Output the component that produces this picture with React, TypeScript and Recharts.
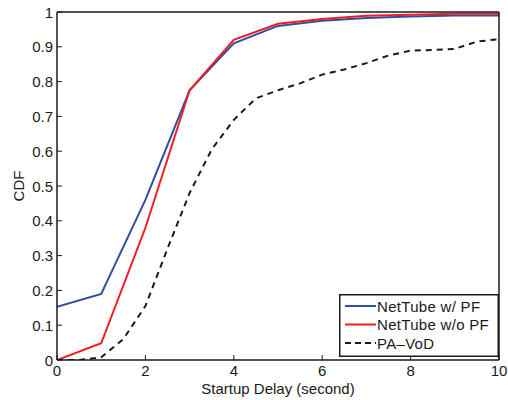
import { LineChart, Line, XAxis, YAxis } from 'recharts'

// startup delay (s) sampled at whole seconds for the two NetTube variants
const delaySteps = [0, 1, 2, 3, 4, 5, 6, 7, 8, 9, 10]
const netTubeWithPf = [0.153, 0.19, 0.46, 0.775, 0.91, 0.96, 0.975, 0.983, 0.987, 0.99, 0.99]
const netTubeWithoutPf = [0, 0.048, 0.38, 0.775, 0.92, 0.966, 0.98, 0.989, 0.992, 0.995, 0.995]

// PA-VoD has finer samples
const paDelay = [0, 0.5, 1, 1.5, 2, 2.5, 3, 3.5, 4, 4.5, 5, 5.5, 6, 6.5, 7, 7.5, 8, 8.5, 9, 9.5, 10]
const paVod = [0, 0, 0.008, 0.06, 0.155, 0.32, 0.48, 0.605, 0.69, 0.752, 0.775, 0.795, 0.82, 0.835, 0.853, 0.875, 0.889, 0.891, 0.894, 0.915, 0.922]

const xTicks = [0, 2, 4, 6, 8, 10]
const yTicks = [0, 0.1, 0.2, 0.3, 0.4, 0.5, 0.6, 0.7, 0.8, 0.9, 1]

const seriesNames = ['NetTube w/ PF', 'NetTube w/o PF', 'PA\u2013VoD']
const BLUE = '#2f4f9f'
const RED = '#ee1d23'
const INK = '#1a1a1a'
const FONT = '"Liberation Sans", Arial, Helvetica, sans-serif'
const FS = 15

const withPfData = delaySteps.map((x, i) => ({ x, y: netTubeWithPf[i] }))
const withoutPfData = delaySteps.map((x, i) => ({ x, y: netTubeWithoutPf[i] }))
const paData = paDelay.map((x, i) => ({ x, y: paVod[i] }))

const TICK = 5

const fmtY = (v: number) => (v === 0 || v === 1 ? String(v) : v.toFixed(1))

function BottomTick({ x, y, payload }: any) {
  return (
    <g>
      <line x1={x} x2={x} y1={y} y2={y - TICK} stroke={INK} strokeWidth={1} />
      <text x={x} y={y + 16} textAnchor="middle" fontSize={FS} fontFamily={FONT} fill={INK}>
        {payload.value}
      </text>
    </g>
  )
}

function TopTick({ x, y }: any) {
  return <line x1={x} x2={x} y1={y} y2={y + TICK} stroke={INK} strokeWidth={1} />
}

function LeftTick({ x, y, payload }: any) {
  return (
    <g>
      <line x1={x} x2={x + TICK} y1={y} y2={y} stroke={INK} strokeWidth={1} />
      <text x={x - 4} y={y + 5.5} textAnchor="end" fontSize={FS} fontFamily={FONT} fill={INK}>
        {fmtY(payload.value)}
      </text>
    </g>
  )
}

function RightTick({ x, y }: any) {
  return <line x1={x} x2={x - TICK} y1={y} y2={y} stroke={INK} strokeWidth={1} />
}

function LegendBox() {
  const rows = [
    { name: seriesNames[0], color: BLUE, dash: undefined },
    { name: seriesNames[1], color: RED, dash: undefined },
    { name: seriesNames[2], color: INK, dash: '6 4' },
  ]
  return (
    <svg width={160} height={63} style={{ position: 'absolute', left: 339, top: 294 }}>
      <rect x={0.75} y={0.75} width={158.5} height={61.5} fill="#fff" stroke={INK} strokeWidth={1.5} />
      {rows.map((r, i) => {
        const cy = 12 + i * 18.5
        return (
          <g key={r.name}>
            <line x1={6} x2={37} y1={cy} y2={cy} stroke={r.color} strokeWidth={2} strokeDasharray={r.dash} />
            <text x={38} y={cy + 5.5} fontSize={FS} letterSpacing={0.3} fontFamily={FONT} fill={INK}>
              {r.name}
            </text>
          </g>
        )
      })}
    </svg>
  )
}

const axisLine = { stroke: INK, strokeWidth: 1.5 }

export default function App() {
  return (
    <div style={{ position: 'absolute', left: 0, top: 0, width: 508, height: 400, background: '#fff' }}>
      <LineChart width={508} height={400} margin={{ top: 11, right: 8, bottom: 39, left: 56 }}>
        <XAxis
          xAxisId="b"
          dataKey="x"
          type="number"
          domain={[0, 10]}
          ticks={xTicks}
          height={1}
          tickSize={0}
          tickMargin={0}
          tickLine={false}
          tick={<BottomTick />}
          axisLine={axisLine}
          allowDataOverflow
        />
        <XAxis
          xAxisId="t"
          orientation="top"
          dataKey="x"
          type="number"
          domain={[0, 10]}
          ticks={xTicks}
          height={1}
          tickSize={0}
          tickMargin={0}
          tickLine={false}
          tick={<TopTick />}
          axisLine={axisLine}
        />
        <YAxis
          yAxisId="l"
          type="number"
          domain={[0, 1]}
          ticks={yTicks}
          width={1}
          tickSize={0}
          tickMargin={0}
          tickLine={false}
          tick={<LeftTick />}
          axisLine={axisLine}
          allowDataOverflow
        />
        <YAxis
          yAxisId="r"
          orientation="right"
          type="number"
          domain={[0, 1]}
          ticks={yTicks}
          width={1}
          tickSize={0}
          tickMargin={0}
          tickLine={false}
          tick={<RightTick />}
          axisLine={axisLine}
        />
        <Line
          xAxisId="b"
          yAxisId="l"
          data={withPfData}
          dataKey="y"
          type="linear"
          stroke={BLUE}
          strokeWidth={2}
          dot={false}
          isAnimationActive={false}
        />
        <Line
          xAxisId="b"
          yAxisId="l"
          data={withoutPfData}
          dataKey="y"
          type="linear"
          stroke={RED}
          strokeWidth={2}
          dot={false}
          isAnimationActive={false}
        />
        <Line
          xAxisId="b"
          yAxisId="l"
          data={paData}
          dataKey="y"
          type="linear"
          stroke={INK}
          strokeWidth={2}
          strokeDasharray="6 5"
          dot={false}
          isAnimationActive={false}
        />
        <text x={278} y={393.5} textAnchor="middle" fontSize={FS} fontFamily={FONT} fill={INK}>
          Startup Delay (second)
        </text>
        <text
          x={24}
          y={186}
          textAnchor="middle"
          fontSize={FS}
          fontFamily={FONT}
          fill={INK}
          transform="rotate(-90 24 186)"
        >
          CDF
        </text>
      </LineChart>
      <LegendBox />
    </div>
  )
}
